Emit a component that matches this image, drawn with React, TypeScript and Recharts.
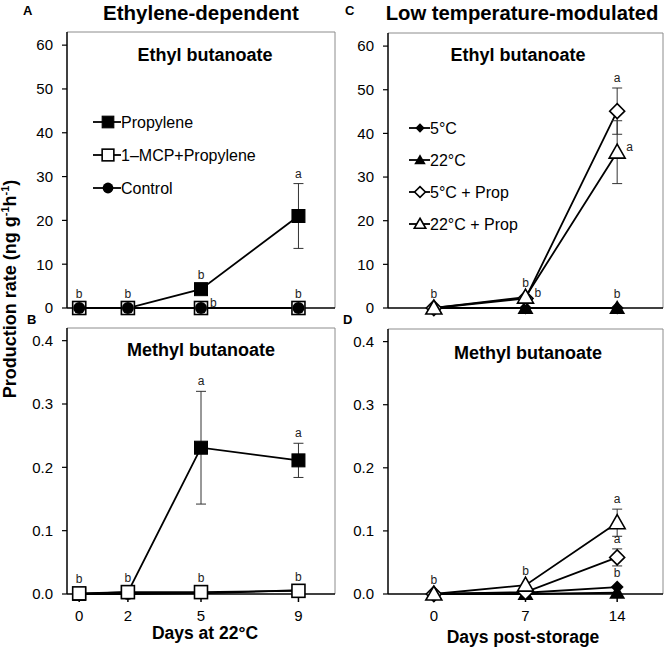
import React from 'react';
import { ComposedChart, Line, XAxis, YAxis, ErrorBar, ReferenceLine, Scatter } from 'recharts';

const FONT = '"Liberation Sans", Arial, Helvetica, sans-serif';

// A / B: days at 22°C
const daysLeft = [0, 2, 5, 9];
const ethylPropylene = [0, 0, 4.3, 21.0];
const ethylPropyleneErr = [0, 0, 0, 7.4];
const ethylMcp = [0, 0, 0, 0];
const ethylControl = [0, 0, 0, 0];

const methylPropylene = [0, 0.003, 0.231, 0.211];
const methylPropyleneErr = [0, 0, 0.089, 0.027];
const methylMcp = [0.001, 0.003, 0.003, 0.005];
const methylControl = [0, 0, 0.001, 0.006];

// C / D: days post-storage
const daysRight = [0, 7, 14];
const ethyl5 = [0, 0, 0];
const ethyl22 = [0, 0, 0];
const ethyl5Prop = [0, 2.2, 45.1];
const ethyl5PropErr = [0, 0, 5.3];
const ethyl22Prop = [0, 2.5, 35.7];
const ethyl22PropErr = [0, 0, 7.2];

const methyl5 = [0, 0.002, 0.011];
const methyl22 = [0, 0, 0.002];
const methyl5Prop = [0, 0.003, 0.058];
const methyl5PropErr = [0, 0, 0.0135];
const methyl22Prop = [0, 0.014, 0.113];
const methyl22PropErr = [0, 0, 0.0215];

const legendLeft = ['Propylene', '1\u2013MCP+Propylene', 'Control'];
const legendRight = ['5°C', '22°C', '5°C + Prop', '22°C + Prop'];

const ticksEthyl = [0, 10, 20, 30, 40, 50, 60];
const ticksMethyl = [0, 0.1, 0.2, 0.3, 0.4];

// significance letters: day, value the letter sits on, letter, where
const notesA = [
  { day: 0, v: 0, t: 'b', side: 'mark' },
  { day: 2, v: 0, t: 'b', side: 'mark' },
  { day: 5, v: 4.3, t: 'b', side: 'mark' },
  { day: 5, v: 0, t: 'b', side: 'right' },
  { day: 9, v: 28.4, t: 'a', side: 'bar' },
  { day: 9, v: 0, t: 'b', side: 'mark' },
];
const notesB = [
  { day: 0, v: 0.001, t: 'b', side: 'mark' },
  { day: 2, v: 0.003, t: 'b', side: 'mark' },
  { day: 5, v: 0.003, t: 'b', side: 'mark' },
  { day: 9, v: 0.005, t: 'b', side: 'mark' },
  { day: 5, v: 0.32, t: 'a', side: 'bar' },
  { day: 9, v: 0.238, t: 'a', side: 'bar' },
];
const notesC = [
  { day: 0, v: 0, t: 'b', side: 'mark' },
  { day: 7, v: 2.5, t: 'b', side: 'mark' },
  { day: 7, v: 2.2, t: 'b', side: 'right' },
  { day: 14, v: 0, t: 'b', side: 'mark' },
  { day: 14, v: 50.4, t: 'a', side: 'bar' },
  { day: 14, v: 35.7, t: 'a', side: 'right' },
];
const notesD = [
  { day: 0, v: 0, t: 'b', side: 'mark' },
  { day: 7, v: 0.014, t: 'b', side: 'mark' },
  { day: 14, v: 0.011, t: 'b', side: 'mark' },
  { day: 14, v: 0.0717, t: 'a', side: 'bar' },
  { day: 14, v: 0.135, t: 'a', side: 'bar' },
];

const rowsA = daysLeft.map((d, i) => ({
  day: d, prop: ethylPropylene[i], propErr: ethylPropyleneErr[i], mcp: ethylMcp[i], ctrl: ethylControl[i],
}));
const rowsB = daysLeft.map((d, i) => ({
  day: d, prop: methylPropylene[i], propErr: methylPropyleneErr[i], mcp: methylMcp[i], ctrl: methylControl[i],
}));
const rowsC = daysRight.map((d, i) => ({
  day: d, c5: ethyl5[i], c22: ethyl22[i], p5: ethyl5Prop[i], p5Err: ethyl5PropErr[i], p22: ethyl22Prop[i], p22Err: ethyl22PropErr[i],
}));
const rowsD = daysRight.map((d, i) => ({
  day: d, c5: methyl5[i], c22: methyl22[i], p5: methyl5Prop[i], p5Err: methyl5PropErr[i], p22: methyl22Prop[i], p22Err: methyl22PropErr[i],
}));

function Mark({ cx = 0, cy = 0, kind, s = 1 }: any) {
  if (cx == null || cy == null || isNaN(cx) || isNaN(cy)) return null;
  switch (kind) {
    case 'squareFilled': {
      const h = 6.5 * s;
      return <rect x={cx - h} y={cy - h} width={2 * h} height={2 * h} fill="#000" stroke="#000" strokeWidth={1} />;
    }
    case 'squareOpen': {
      const h = 6.5 * s;
      return <rect x={cx - h} y={cy - h} width={2 * h} height={2 * h} fill="#fff" stroke="#000" strokeWidth={1.6} />;
    }
    case 'circle':
      return <circle cx={cx} cy={cy} r={6 * s} fill="#000" />;
    case 'diamondFilled': {
      const h = 6.5 * s;
      return <polygon points={`${cx},${cy - h} ${cx + h},${cy} ${cx},${cy + h} ${cx - h},${cy}`} fill="#000" />;
    }
    case 'diamondOpen': {
      const h = 7.5 * s;
      return <polygon points={`${cx},${cy - h} ${cx + h},${cy} ${cx},${cy + h} ${cx - h},${cy}`} fill="#fff" stroke="#000" strokeWidth={1.6} />;
    }
    case 'triFilled':
      return <polygon points={`${cx},${cy - 8 * s} ${cx + 8 * s},${cy + 6 * s} ${cx - 8 * s},${cy + 6 * s}`} fill="#000" />;
    case 'triOpen':
      return <polygon points={`${cx},${cy - 8 * s} ${cx + 8 * s},${cy + 6 * s} ${cx - 8 * s},${cy + 6 * s}`} fill="#fff" stroke="#000" strokeWidth={1.6} />;
    default:
      return null;
  }
}

function Note(p: any) {
  const { cx, cy, payload } = p;
  const st = { fontSize: 12, fontFamily: FONT, fill: '#222' };
  if (payload.side === 'right') {
    return <text x={cx + 9} y={cy - 1} {...st}>{payload.t}</text>;
  }
  return (
    <text x={cx} y={cy - (payload.side === 'bar' ? 6 : 10)} textAnchor="middle" {...st}>
      {payload.t}
    </text>
  );
}

const seriesLeftA = [
  { key: 'prop', err: 'propErr', kind: 'squareFilled' },
  { key: 'mcp', kind: 'squareOpen' },
  { key: 'ctrl', kind: 'circle' },
];
const seriesLeftB = [
  { key: 'prop', err: 'propErr', kind: 'squareFilled' },
  { key: 'ctrl', kind: 'circle' },
  { key: 'mcp', kind: 'squareOpen' },
];
const seriesRight = [
  { key: 'c5', kind: 'diamondFilled' },
  { key: 'c22', kind: 'triFilled' },
  { key: 'p5', err: 'p5Err', kind: 'diamondOpen' },
  { key: 'p22', err: 'p22Err', kind: 'triOpen' },
];

function Panel({ left, top, width, height, margin, rows, series, xDomain, xTicks, yDomain, yTicks, decimals, showX, notes }: any) {
  const tickFont = { fill: '#000', fontSize: 15, fontFamily: FONT };
  return (
    <div style={{ position: 'absolute', left, top }}>
      <ComposedChart width={width} height={height} data={rows} margin={margin}>
        <XAxis
          type="number"
          dataKey="day"
          domain={xDomain}
          ticks={xTicks}
          interval={0}
          axisLine={{ stroke: '#000', strokeWidth: 1.5 }}
          tickLine={showX ? { stroke: '#000', strokeWidth: 1.5 } : false}
          tick={showX ? tickFont : false}
          tickSize={8}
          tickMargin={8}
          height={showX ? 30 : 1}
        />
        <YAxis
          type="number"
          domain={yDomain}
          ticks={yTicks}
          interval={0}
          width={50}
          axisLine={{ stroke: '#000', strokeWidth: 1.5 }}
          tickLine={{ stroke: '#000', strokeWidth: 1.2 }}
          tickSize={5}
          tickMargin={9}
          tick={tickFont}
          tickFormatter={(v: number) => v.toFixed(decimals)}
        />
        <ReferenceLine y={yDomain[1]} stroke="#8c8c8c" strokeWidth={1} />
        <ReferenceLine x={xDomain[1]} stroke="#8c8c8c" strokeWidth={1} />
        {series.map((s: any) => (
          <Line
            key={s.key}
            dataKey={s.key}
            type="linear"
            stroke="#000"
            strokeWidth={1.8}
            isAnimationActive={false}
            activeDot={false}
            dot={(p: any) => <Mark key={`${s.key}-${p.index}`} cx={p.cx} cy={p.cy} kind={s.kind} />}
          >
            {s.err ? <ErrorBar dataKey={s.err} width={5} stroke="#333" strokeWidth={1} direction="y" /> : null}
          </Line>
        ))}
        <Scatter data={notes} dataKey="v" isAnimationActive={false} shape={(p: any) => <Note {...p} />} />
      </ComposedChart>
    </div>
  );
}

export default function App() {
  const txt = { fontFamily: FONT, fill: '#000' };
  const leftKinds = ['squareFilled', 'squareOpen', 'circle'];
  const rightKinds = ['diamondFilled', 'triFilled', 'diamondOpen', 'triOpen'];
  return (
    <div style={{ position: 'absolute', left: 0, top: 0, width: 666, height: 651, background: '#fff' }}>
      <Panel
        left={0} top={0} width={340} height={320}
        margin={{ top: 32, right: 5, bottom: 11, left: 17 }}
        rows={rowsA} series={seriesLeftA}
        xDomain={[-0.5, 10.5]} xTicks={daysLeft}
        yDomain={[0, 63]} yTicks={ticksEthyl} decimals={0}
        showX={false} notes={notesA}
      />
      <Panel
        left={0} top={320} width={340} height={331}
        margin={{ top: 8, right: 5, bottom: 27, left: 17 }}
        rows={rowsB} series={seriesLeftB}
        xDomain={[-0.5, 10.5]} xTicks={daysLeft}
        yDomain={[0, 0.42]} yTicks={ticksMethyl} decimals={1}
        showX={true} notes={notesB}
      />
      <Panel
        left={330} top={0} width={336} height={320}
        margin={{ top: 33, right: 3, bottom: 11, left: 8 }}
        rows={rowsC} series={seriesRight}
        xDomain={[-3.5, 17.5]} xTicks={daysRight}
        yDomain={[0, 63]} yTicks={ticksEthyl} decimals={0}
        showX={false} notes={notesC}
      />
      <Panel
        left={330} top={320} width={336} height={331}
        margin={{ top: 9, right: 3, bottom: 27, left: 8 }}
        rows={rowsD} series={seriesRight}
        xDomain={[-3.5, 17.5]} xTicks={daysRight}
        yDomain={[0, 0.42]} yTicks={ticksMethyl} decimals={1}
        showX={true} notes={notesD}
      />
      <svg width={666} height={651} style={{ position: 'absolute', left: 0, top: 0, pointerEvents: 'none' }}>
        <text x={23} y={15} fontSize={13} fontWeight="bold" {...txt}>A</text>
        <text x={27} y={324} fontSize={13} fontWeight="bold" {...txt}>B</text>
        <text x={345} y={15} fontSize={13} fontWeight="bold" {...txt}>C</text>
        <text x={343} y={324} fontSize={13} fontWeight="bold" {...txt}>D</text>

        <text x={201} y={20} fontSize={20.5} fontWeight="bold" textAnchor="middle" {...txt}>Ethylene-dependent</text>
        <text x={522} y={20} fontSize={20.3} fontWeight="bold" textAnchor="middle" {...txt}>Low temperature-modulated</text>

        <text x={205} y={60.5} fontSize={18} fontWeight="bold" textAnchor="middle" {...txt}>Ethyl butanoate</text>
        <text x={518} y={60.5} fontSize={18} fontWeight="bold" textAnchor="middle" {...txt}>Ethyl butanoate</text>
        <text x={201} y={356} fontSize={18} fontWeight="bold" textAnchor="middle" {...txt}>Methyl butanoate</text>
        <text x={528} y={359} fontSize={18} fontWeight="bold" textAnchor="middle" {...txt}>Methyl butanoate</text>

        <text x={205} y={639} fontSize={17.5} fontWeight="bold" textAnchor="middle" {...txt}>Days at 22°C</text>
        <text x={523} y={643} fontSize={17.5} fontWeight="bold" textAnchor="middle" {...txt}>Days post-storage</text>

        <text transform="translate(16,289) rotate(-90)" fontSize={18} fontWeight="bold" textAnchor="middle" {...txt}>
          Production rate (ng g<tspan dy={-7} fontSize={11}>-1</tspan>
          <tspan dy={7}>h</tspan>
          <tspan dy={-7} fontSize={11}>-1</tspan>
          <tspan dy={7}>)</tspan>
        </text>

        {legendLeft.map((name, i) => {
          const y = 122 + i * 33;
          return (
            <g key={name}>
              <line x1={93} x2={121} y1={y} y2={y} stroke="#000" strokeWidth={1.8} />
              <Mark cx={108} cy={y} kind={leftKinds[i]} s={0.9} />
              <text x={121} y={y + 5.5} fontSize={16} {...txt}>{name}</text>
            </g>
          );
        })}
        {legendRight.map((name, i) => {
          const y = 128 + i * 32;
          return (
            <g key={name}>
              <line x1={409} x2={430} y1={y} y2={y} stroke="#000" strokeWidth={1.8} />
              <Mark cx={420} cy={y} kind={rightKinds[i]} s={0.72} />
              <text x={430} y={y + 5.5} fontSize={16} {...txt}>{name}</text>
            </g>
          );
        })}
      </svg>
    </div>
  );
}
